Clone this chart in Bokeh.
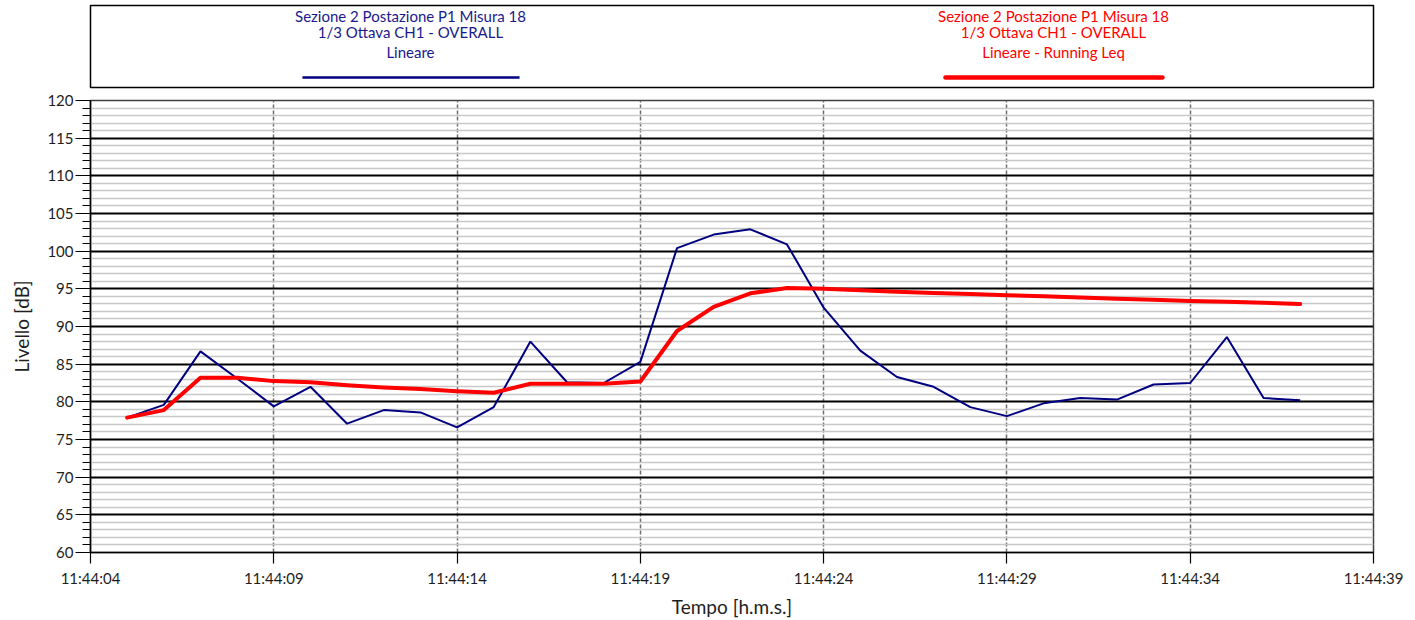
from bokeh.plotting import figure
from bokeh.models import Range1d, FixedTicker, ColumnDataSource
from bokeh.layouts import column
from bokeh.core.properties import value
from bokeh.embed import file_html
from bokeh.resources import INLINE

# ---------------- data ----------------
times = ["11:44:05", "11:44:06", "11:44:07", "11:44:08", "11:44:09", "11:44:10",
         "11:44:11", "11:44:12", "11:44:13", "11:44:14", "11:44:15", "11:44:16",
         "11:44:17", "11:44:18", "11:44:19", "11:44:20", "11:44:21", "11:44:22",
         "11:44:23", "11:44:24", "11:44:25", "11:44:26", "11:44:27", "11:44:28",
         "11:44:29", "11:44:30", "11:44:31", "11:44:32", "11:44:33", "11:44:34",
         "11:44:35", "11:44:36", "11:44:37"]

lineare = [77.9, 79.6, 86.7, 83.1, 79.4, 82.0, 77.1, 78.9, 78.6, 76.6, 79.3, 88.0,
           82.6, 82.5, 85.3, 100.4, 102.2, 102.9, 100.9, 92.5, 86.8, 83.3, 82.0, 79.3,
           78.1, 79.8, 80.5, 80.3, 82.3, 82.5, 88.6, 80.5, 80.2]

running_leq = [77.9, 78.9, 83.2, 83.2, 82.75, 82.6, 82.2, 81.9, 81.7, 81.4, 81.2, 82.4,
               82.4, 82.4, 82.7, 89.4, 92.6, 94.4, 95.1, 95.0, 94.8, 94.6, 94.45, 94.3,
               94.15, 94.0, 93.85, 93.7, 93.55, 93.4, 93.3, 93.15, 93.0]

x_tick_labels = ["11:44:04", "11:44:09", "11:44:14", "11:44:19", "11:44:24",
                 "11:44:29", "11:44:34", "11:44:39"]
y_ticks = [60, 65, 70, 75, 80, 85, 90, 95, 100, 105, 110, 115, 120]

legend_blue = ["Sezione 2 Postazione P1 Misura 18", "1/3 Ottava CH1 - OVERALL", "Lineare"]
legend_red = ["Sezione 2 Postazione P1 Misura 18", "1/3 Ottava CH1 - OVERALL", "Lineare - Running Leq"]

x_label = "Tempo [h.m.s.]"
y_label = "Livello [dB]"

# ---------------- helpers ----------------
def to_sec(s):
    h, m, sec = (int(v) for v in s.split(":"))
    return (h - 11) * 3600 + (m - 44) * 60 + sec

xs = [to_sec(t) for t in times]
x_ticks = [to_sec(t) for t in x_tick_labels]

FONT = "Lato"
BLUE = "#000080"
RED = "#ff0000"
W = 1415

# ---------------- legend box ----------------
leg = figure(width=W, height=89, output_backend="svg", toolbar_location=None,
             x_range=Range1d(0, 1), y_range=Range1d(0, 1),
             min_border_left=90, min_border_right=42, min_border_top=5, min_border_bottom=2)
leg.xaxis.visible = False
leg.yaxis.visible = False
leg.xgrid.visible = False
leg.ygrid.visible = False
leg.outline_line_color = "black"
leg.outline_line_width = 1.5

text_y = [0.878, 0.671, 0.439]
leg.text(x=[0.2494] * 3, y=text_y, text=legend_blue, text_font=value(FONT),
         text_font_size="15px", text_color="#1a1a8c", text_align="center",
         text_baseline="middle")
leg.text(x=[0.7506] * 3, y=text_y, text=legend_red, text_font=value(FONT),
         text_font_size="15px", text_color=RED, text_align="center",
         text_baseline="middle")
leg.line(x=[0.1652, 0.3344], y=[0.122, 0.122], line_color=BLUE, line_width=2.5)
leg.line(x=[0.6664, 0.8355], y=[0.122, 0.122], line_color=RED, line_width=4.5,
         line_cap="round")

# ---------------- main chart ----------------
p = figure(width=W, height=531, output_backend="svg", toolbar_location=None,
           x_range=Range1d(4, 39), y_range=Range1d(60, 120),
           min_border_left=89, min_border_right=41, min_border_top=11, min_border_bottom=68)

p.outline_line_color = "#404040"
p.outline_line_width = 1.5

minor = [v for v in range(60, 121) if v % 5]
yt = FixedTicker(ticks=y_ticks, minor_ticks=minor)
p.yaxis.ticker = yt
p.ygrid.ticker = yt
p.ygrid.grid_line_color = "black"
p.ygrid.grid_line_width = 2
p.ygrid.minor_grid_line_color = "#c8c8c8"
p.ygrid.minor_grid_line_width = 1.5

xt = FixedTicker(ticks=x_ticks, minor_ticks=[])
p.xaxis.ticker = xt
p.xgrid.ticker = xt
p.xgrid.grid_line_color = "#6e6e6e"
p.xgrid.grid_line_width = 1.5
p.xgrid.grid_line_dash = "4 2"
p.xaxis.major_label_overrides = {x: lab for x, lab in zip(x_ticks, x_tick_labels)}

for ax in (p.xaxis, p.yaxis):
    ax.axis_line_color = "black"
    ax.axis_line_width = 1.5
    ax.major_tick_line_color = "black"
    ax.minor_tick_line_color = "black"
    ax.major_tick_line_width = 1.2
    ax.minor_tick_line_width = 1.2
    ax.major_tick_in = 0
    ax.minor_tick_in = 0
    ax.major_label_text_font = FONT
    ax.major_label_text_font_size = "15px"
    ax.major_label_text_color = "#1e1e1e"
    ax.axis_label_text_font = FONT
    ax.axis_label_text_font_size = "19px"
    ax.axis_label_text_font_style = "normal"
    ax.axis_label_text_color = "#1e1e1e"

p.yaxis.major_tick_out = 15
p.yaxis.minor_tick_out = 8
p.yaxis.major_label_standoff = 2
p.yaxis.axis_label = y_label
p.yaxis.axis_label_standoff = 11

p.xaxis.major_tick_out = 11
p.xaxis.minor_tick_out = 0
p.xaxis.major_label_standoff = 5
p.xaxis.axis_label = x_label
p.xaxis.axis_label_standoff = 5

src = ColumnDataSource(data=dict(x=xs, lin=lineare, leq=running_leq))
p.line("x", "lin", source=src, line_color=BLUE, line_width=2)
p.line("x", "leq", source=src, line_color=RED, line_width=4, line_cap="round",
       line_join="round")

layout = column(leg, p, spacing=0)
open("out.html", "w").write(file_html(layout, INLINE))
